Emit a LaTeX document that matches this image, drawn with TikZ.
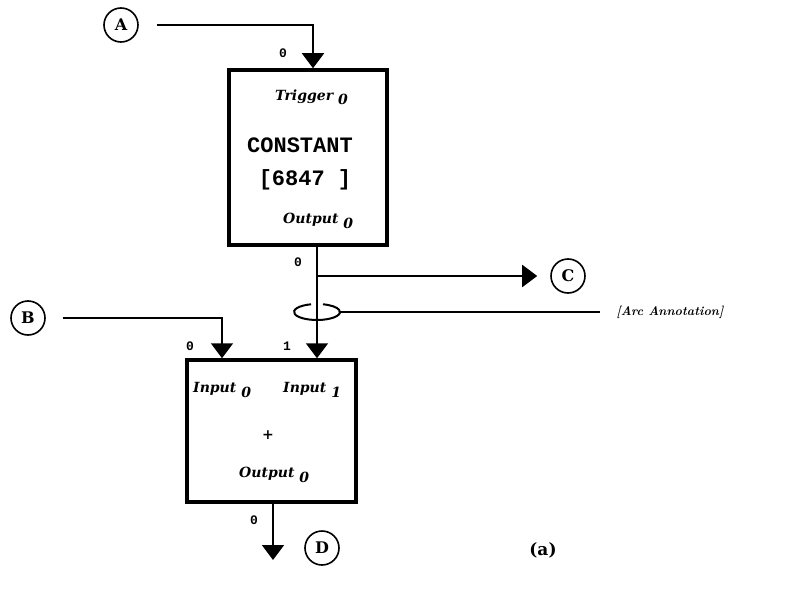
\documentclass[tikz,border=0pt]{standalone}
\usepackage{fontspec}
\setmonofont{Liberation Mono}
\newfontfamily\figfont{DejaVu Serif}
\usetikzlibrary{arrows.meta,shapes.geometric}
\newcommand{\pinsub}[2]{#1\hspace{5pt}\raisebox{-5pt}{#2}}

\begin{document}
\begin{tikzpicture}[x=1pt,y=-1pt, every node/.style={inner sep=0pt}]
  \tikzstyle{port}=[draw,circle,line width=1.6pt,minimum size=34pt,font=\fontsize{16}{16}\selectfont\figfont\bfseries]
  \tikzstyle{block}=[draw,line width=3.5pt]
  \tikzstyle{flow}=[line width=2pt,-{Triangle[width=22pt,length=15pt]}]
  \tikzstyle{wire}=[line width=2pt]
  \tikzstyle{idx}=[font=\fontsize{13}{13}\selectfont\ttfamily\bfseries]
  \tikzstyle{pin}=[font=\fontsize{14}{14}\selectfont\figfont\bfseries\itshape]
  \tikzstyle{opname}=[font=\fontsize{22}{22}\selectfont\ttfamily\bfseries]
  \useasboundingbox (0,0) rectangle (785,602);
  % terminals
  \node[port] (a) at (121,25) {A};
  \node[port] (b) at (28,318) {B};
  \node[port] (c) at (568,276) {C};
  \node[port] (d) at (322,548) {D};
  % constant actor
  \node[block,minimum width=158pt,minimum height=175pt] (const) at (308,157.5) {};
  \node[pin,anchor=base west] (trig) at (275,100) {\pinsub{Trigger}{0}};
  \node[opname,anchor=base] (cname) at (300,152) {CONSTANT};
  \node[opname,anchor=base] (cval) at (305,185) {[6847 ]};
  \node[pin,anchor=base west] (cout) at (283,223) {\pinsub{Output}{0}};
  % adder actor
  \node[block,minimum width=169pt,minimum height=142pt] (plus) at (271.5,431) {};
  \node[pin,anchor=base west] (in0) at (193,392) {\pinsub{Input}{0}};
  \node[pin,anchor=base west] (in1) at (283,392) {\pinsub{Input}{1}};
  \node[font=\fontsize{14}{14}\selectfont\figfont\bfseries] (pname) at (268,435) {+};
  \node[pin,anchor=base west] (pout) at (239,477) {\pinsub{Output}{0}};
  % port indices
  \node[idx] (iA) at (283,53) {0};
  \node[idx] (iC) at (298,262) {0};
  \node[idx] (iB) at (190,346) {0};
  \node[idx] (iP) at (287,346) {1};
  \node[idx] (iD) at (254,520) {0};
  % arc annotation (ring broken where the arc passes)
  \node[ellipse,minimum width=46pt,minimum height=16pt] (ring) at (317,312) {};
  \draw[wire] (ring.center) ++(105:23pt and 8pt) arc[start angle=105,end angle=435,x radius=23pt,y radius=8pt];
  \node[font=\fontsize{12.5}{12.5}\selectfont\bfseries\itshape] (note) at (670,312) {[Arc Annotation]};
  \coordinate (dTip) at (273,560);
  % connectors
  \draw[flow] ([xshift=18pt]a.east) -| ([xshift=5pt]const.north);
  \draw[flow] ([xshift=9pt]const.south) -- ([xshift=9pt]const.south |- plus.north);
  \draw[flow,shorten >=13pt] ([xshift=9pt]const.south |- c) -- (c);
  \draw[wire] (ring.east) -- ([xshift=-16pt]note.west);
  \draw[flow] ([xshift=17pt]b.east) -| ([xshift=-49.5pt]plus.north);
  \draw[flow] (plus.south -| dTip) -- (dTip);
  \node[font=\fontsize{17}{17}\selectfont\figfont\bfseries] (cap) at (543,550) {(a)};
\end{tikzpicture}
\end{document}
